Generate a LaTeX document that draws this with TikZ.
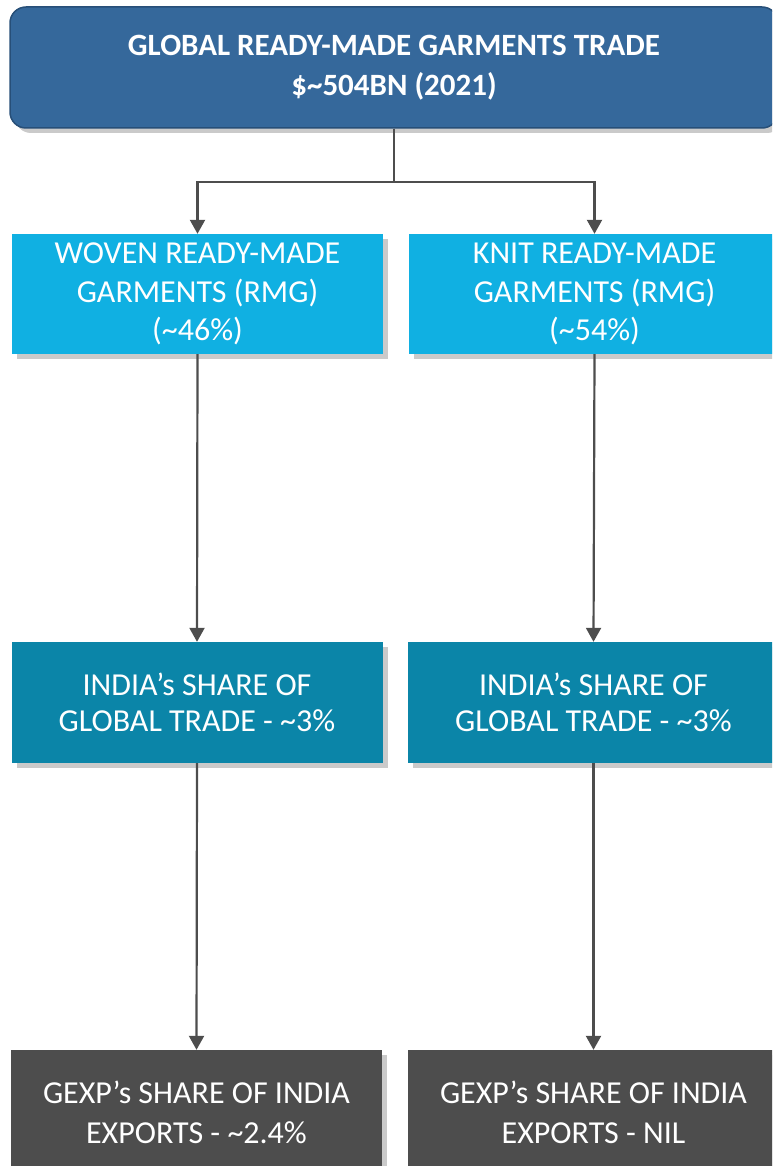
\documentclass[tikz,border=0pt]{standalone}
\usepackage{fontspec}
\setmainfont{Carlito}
\usetikzlibrary{arrows.meta,shadows}
\definecolor{topblue}{HTML}{35689B}
\definecolor{topedge}{HTML}{274F78}
\definecolor{cyanbox}{HTML}{10B0E2}
\definecolor{tealbox}{HTML}{0B85A8}
\definecolor{greybox}{HTML}{4D4D4D}
\definecolor{linegrey}{HTML}{4D4D4D}
\tikzset{
  boxshadow/.style={drop shadow={shadow xshift=5pt,shadow yshift=-5pt,opacity=0.35,fill=black!60}},
  topbox/.style={draw=topedge,line width=1.5pt,fill=topblue,rounded corners=16pt,
    minimum width=768pt,minimum height=121pt,inner sep=0pt,text=white,align=center,
    font=\fontsize{31}{40}\selectfont\bfseries,boxshadow},
  midbox/.style={fill=cyanbox,minimum width=371pt,minimum height=120pt,inner sep=0pt,
    text=white,align=center,font=\fontsize{32}{38.5}\selectfont,boxshadow},
  sharebox/.style={fill=tealbox,minimum width=371pt,minimum height=121pt,inner sep=0pt,
    text=white,align=center,font=\fontsize{32}{35.5}\selectfont,boxshadow},
  gexpbox/.style={fill=greybox,minimum width=371pt,minimum height=124pt,inner sep=0pt,
    text=white,align=center,font=\fontsize{32}{40}\selectfont,boxshadow},
  arr/.style={draw=linegrey,line width=2.2pt,-{Triangle[length=14pt,width=15pt]},color=linegrey}
}
\begin{document}
\begin{tikzpicture}[x=1pt,y=-1pt]
\useasboundingbox (0,0) rectangle (772,1166);
\clip (0,0) rectangle (772,1166);
\node[topbox] (top) at (394,67.5) {GLOBAL READY-MADE GARMENTS TRADE\\\$\textasciitilde504BN (2021)};
\node[midbox] (woven) at (197.5,294) {WOVEN READY-MADE\\GARMENTS (RMG)\\(\textasciitilde46\%)};
\node[midbox] (knit) at (594.5,294) {KNIT READY-MADE\\GARMENTS (RMG)\\(\textasciitilde54\%)};
\node[sharebox] (indiaL) at (197,702.5) {INDIA’s SHARE OF\\GLOBAL TRADE - \textasciitilde3\%};
\node[sharebox] (indiaR) at (593.5,702.5) {INDIA’s SHARE OF\\GLOBAL TRADE - \textasciitilde3\%};
\node[gexpbox] (gexpL) at (196.5,1112) {GEXP’s SHARE OF INDIA\\EXPORTS - \textasciitilde2.4\%};
\node[gexpbox] (gexpR) at (593.5,1112) {GEXP’s SHARE OF INDIA\\EXPORTS - NIL};
\draw[arr] (top.south) -- ++(0,53) -| (woven.north);
\draw[arr] (top.south) -- ++(0,53) -| (knit.north);
\draw[arr] (woven.south) -- (indiaL.north);
\draw[arr] (knit.south) -- (indiaR.north);
\draw[arr] (indiaL.south) -- (gexpL.north);
\draw[arr] (indiaR.south) -- (gexpR.north);
\end{tikzpicture}
\end{document}
